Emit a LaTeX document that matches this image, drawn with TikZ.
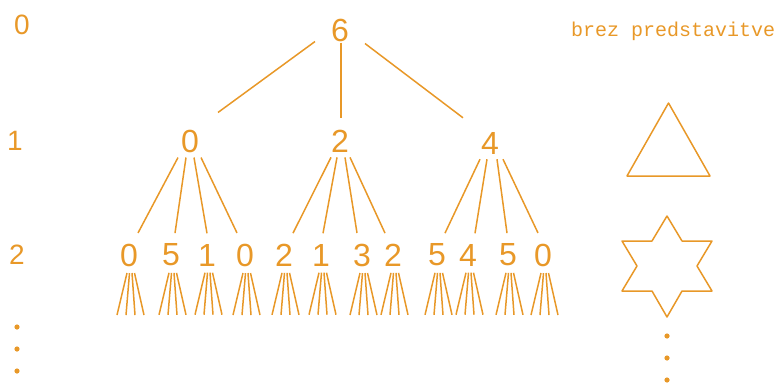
\documentclass[tikz,border=0pt]{standalone}
\usepackage{fontspec}
\setmainfont{Liberation Sans}
\newfontfamily\plotmono{Liberation Mono}
\definecolor{gold}{RGB}{232,152,40}
\begin{document}
\begin{tikzpicture}[x=1pt,y=-1pt,
  ln/.style={draw=gold, line width=1.5pt},
  digit/.style={inner sep=0pt, text=gold, font=\fontsize{32}{32}\selectfont},
  lvl/.style={inner sep=0pt, text=gold, font=\fontsize{28}{28}\selectfont},
  note/.style={inner sep=0pt, text=gold, font=\plotmono\fontsize{20}{20}\selectfont, anchor=base west},
  dotmark/.style={fill=gold, draw=none}]
\useasboundingbox (0,0) rectangle (779,383);
% level labels
\node[lvl] (l0) at (22,25) {0};
\node[lvl] (l1) at (15,141) {1};
\node[lvl] (l2) at (17,255) {2};
\fill[dotmark] (17,327) circle (2.6) (17,349) circle (2.6) (17,371) circle (2.6);
% tree
\node[digit] (r) at (340,30) {6};
\node[digit] (a) at (190,141.5) {0};
\node[digit] (b) at (340,141.5) {2};
\node[digit] (c) at (490,143.5) {4};
\foreach \x/\t [count=\i] in {129/0,171/5,207/1,245/0,284/2,321/1,362/3,393/2,437/5,468/4,508/5,543/0}
  \node[digit] (d\i) at (\x,255) {\t};
\draw[ln] ([shift={(-25,0)}]r.south) -- ([shift={(28,-17.5)}]a.north);
\draw[ln] ([shift={(1,1)}]r.south) -- ([shift={(1,-12.5)}]b.north);
\draw[ln] ([shift={(25,2)}]r.south) -- ([shift={(-27,-14.5)}]c.north);
\foreach \p/\c/\tx/\bx in {a/1/-12/9, a/2/-4/4, a/3/4/0, a/4/11/-8,
    b/5/-9/9, b/6/-3/2, b/7/5/-5, b/8/10/-8,
    c/9/-10/8, c/10/-3/7, c/11/7/-1, c/12/13/-5}
  \draw[ln] ([shift={(\tx,4.5)}]\p.south) -- ([shift={(\bx,-10.5)}]d\c.north);
\foreach \i in {1,...,12}
  \foreach \t/\b in {-2/-12, 0.5/-3, 3/6, 5.5/15}
    \draw[ln] ([shift={(\t,6.5)}]d\i.south) -- ([shift={(\b,48.5)}]d\i.south);
% right column
\node[note] (txt) at (571,36) {brez predstavitve};
\draw[ln, line join=round] (668.5,103) -- (627,176) -- (710,176) -- cycle;
\draw[ln, line join=round] (667,216) -- (682,241) -- (712,241) -- (697,266) -- (712,291)
  -- (682,291) -- (667,317) -- (652,291) -- (622,291) -- (637,266) -- (622,241)
  -- (652,241) -- cycle;
\fill[dotmark] (667,336) circle (2.6) (667,358) circle (2.6) (667,380) circle (2.6);
\end{tikzpicture}
\end{document}
